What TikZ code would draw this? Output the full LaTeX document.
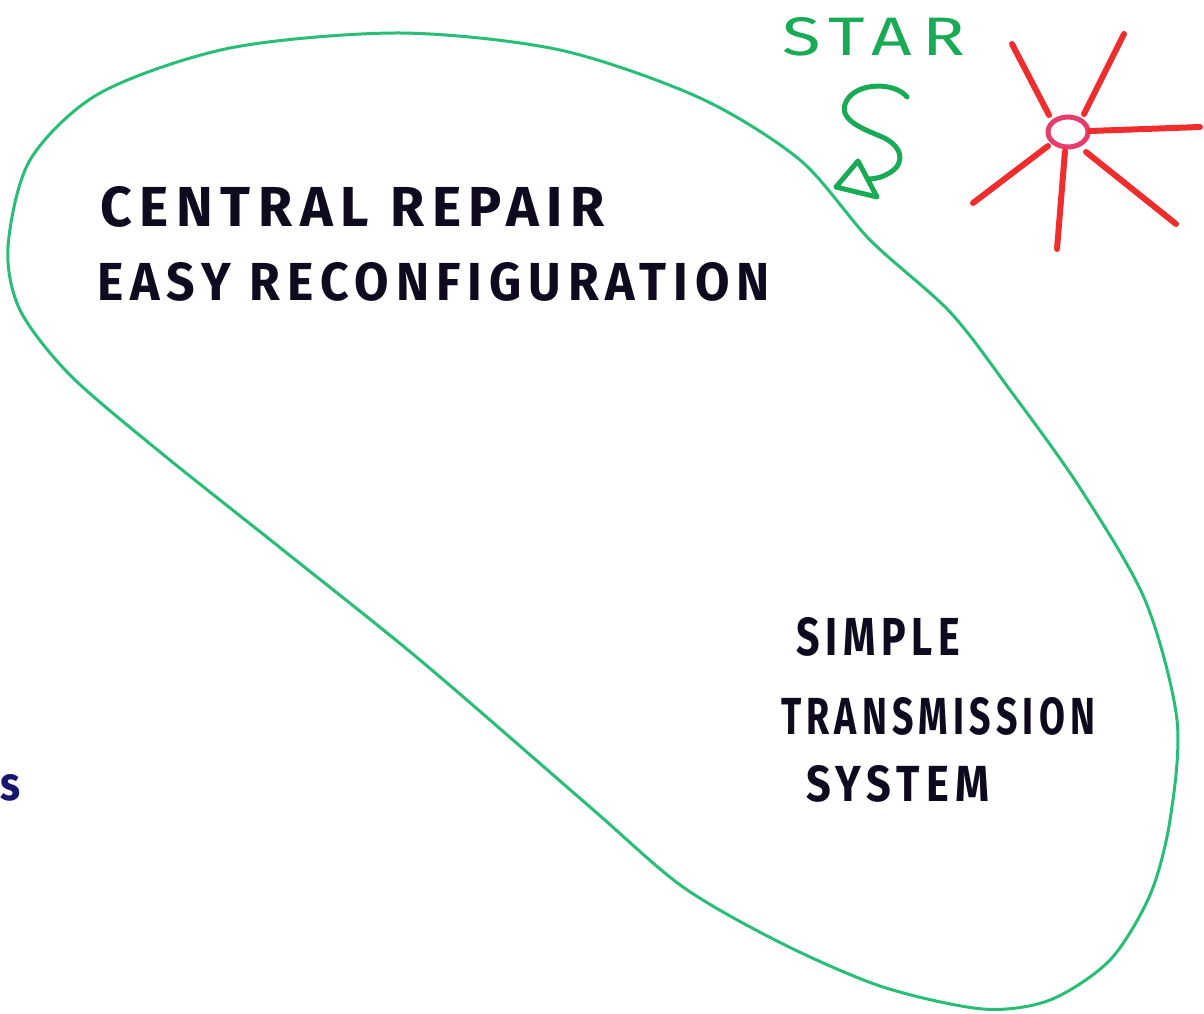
\documentclass[tikz,border=0pt]{standalone}
\usepackage{fontspec}
\usepackage{graphicx}
\usetikzlibrary{shapes.geometric}
\setmainfont{Fira Sans}
\newfontfamily\handfont[LetterSpace=14]{Fira Sans}
\definecolor{blobgreen}{RGB}{40,190,120}
\definecolor{stargreen}{RGB}{25,170,85}
\definecolor{starred}{RGB}{240,45,45}
\definecolor{starpink}{RGB}{230,60,110}
\definecolor{ink}{RGB}{15,10,30}
\definecolor{blueink}{RGB}{25,20,110}
\tikzset{
  blob/.style={draw=blobgreen, line width=3pt, line join=round},
  ray/.style={draw=starred, line width=6pt, line cap=round},
  squiggle/.style={draw=stargreen, line width=5pt, line cap=round, line join=round},
  lbl/.style={inner sep=0pt, outer sep=0pt, text=ink, font=\handfont\fontseries{sb}\selectfont},
}
\begin{document}
\begin{tikzpicture}[x=1pt,y=-1pt]
\useasboundingbox (0,0) rectangle (1204,1014);
\fill[white] (0,0) rectangle (1204,1014);
% green outline
\draw[blob] plot[smooth cycle, tension=0.5] coordinates {
 (8,247) (30,160) (100,93) (230,48) (400,33) (560,50) (700,98) (800,160)
 (870,240) (950,312) (1010,390) (1080,488) (1145,600) (1177,720)
 (1170,820) (1150,895) (1110,960) (1050,1000) (983,1009) (883,987)
 (783,944) (683,887) (590,807) (420,660) (283,550) (160,452) (70,375) (20,310)};
% star label and squiggle arrow
\node[lbl, anchor=north west, text=stargreen, font=\handfont\selectfont] (star) at (782,17) {\resizebox{183pt}{38pt}{STAR}};
\coordinate (tip) at (836,187);
\draw[squiggle] (907,97) .. controls (895,82) and (858,82) .. (847,100)
  .. controls (836,118) and (860,128) .. (880,136)
  .. controls (902,145) and (906,162) .. (891,172)
  .. controls (883,177) and (876,179) .. (868,179);
\draw[squiggle] (tip) -- (858,161) -- (877,197) -- cycle;
% red star
\node[draw=starpink, line width=5pt, ellipse, minimum width=40pt, minimum height=30pt, inner sep=0pt] (sun) at (1068,132) {};
\draw[ray] (1049,115) -- (1012,44);
\draw[ray] (1084,114) -- (1124,34);
\draw[ray] (1090,131) -- (1200,127);
\draw[ray] (1086,152) -- (1176,224);
\draw[ray] (1065,151) -- (1057,249);
\draw[ray] (1048,146) -- (973,203);
% texts
\node[lbl, anchor=north west] (central) at (100,186) {\resizebox{505pt}{40pt}{CENTRAL REPAIR}};
\node[lbl, anchor=north west] (easy) at (97,262) {\resizebox{673pt}{38pt}{EASY RECONFIGURATION}};
\node[lbl, anchor=north west] (simple) at (796,617) {\resizebox{164pt}{38pt}{SIMPLE}};
\node[lbl, anchor=north west] (trans) at (781,697) {\resizebox{314pt}{37pt}{TRANSMISSION}};
\node[lbl, anchor=north west] (system) at (806,765) {\resizebox{183pt}{36pt}{SYSTEM}};
\node[lbl, anchor=north west, text=blueink] (frag) at (1,774) {\resizebox{20pt}{26pt}{s}};
\end{tikzpicture}
\end{document}
